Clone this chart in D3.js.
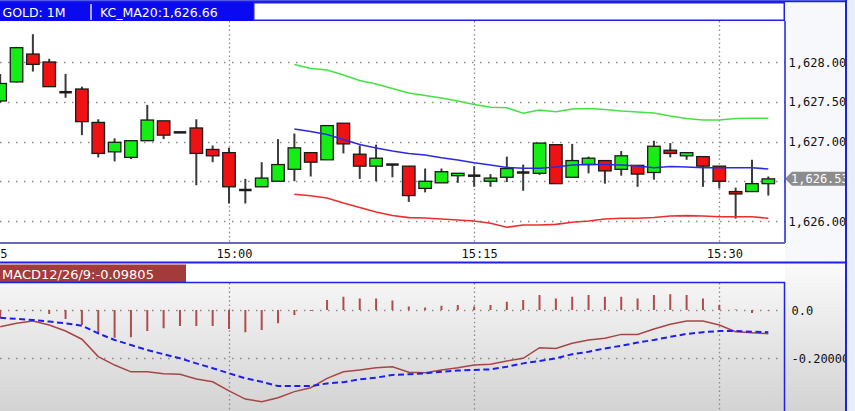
<!DOCTYPE html>
<html><head><meta charset="utf-8">
<script src="https://cdn.jsdelivr.net/npm/d3@7/dist/d3.min.js"></script>
<style>html,body{margin:0;padding:0;background:#e7eef8;overflow:hidden}</style>
</head><body>
<script>
// ---------- DATA ----------
const times = ["14:46","14:47","14:48","14:49","14:50","14:51","14:52","14:53","14:54","14:55","14:56","14:57","14:58","14:59",
"15:00","15:01","15:02","15:03","15:04","15:05","15:06","15:07","15:08","15:09","15:10","15:11","15:12","15:13","15:14","15:15",
"15:16","15:17","15:18","15:19","15:20","15:21","15:22","15:23","15:24","15:25","15:26","15:27","15:28","15:29","15:30","15:31","15:32","15:33"];
const open = [1627.51,1627.75,1628.10,1628.00,1627.62,1627.66,1627.24,1626.87,1626.80,1627.01,1627.26,1627.12,1627.17,1626.90,
1626.86,1626.39,1626.43,1626.50,1626.65,1626.86,1626.77,1627.23,1626.84,1626.69,1626.71,1626.69,1626.41,1626.48,1626.57,1626.57,
1626.50,1626.55,1626.61,1626.60,1626.96,1626.55,1626.71,1626.76,1626.65,1626.70,1626.61,1626.89,1626.82,1626.81,1626.69,1626.37,1626.37,1626.47];
const high = [1627.85,1628.19,1628.35,1628.04,1627.85,1627.69,1627.28,1627.04,1627.01,1627.46,1627.26,1627.12,1627.28,1626.95,
1626.92,1626.53,1626.74,1627.03,1627.10,1626.86,1627.20,1627.23,1626.95,1626.96,1626.71,1626.69,1626.66,1626.66,1626.60,1626.69,
1626.59,1626.81,1626.71,1626.98,1626.96,1626.97,1626.81,1626.76,1626.88,1626.70,1627.01,1626.98,1626.86,1626.81,1626.69,1626.42,1626.77,1626.56];
const low = [1627.49,1627.74,1627.88,1627.69,1627.55,1627.08,1626.80,1626.75,1626.78,1627.01,1627.03,1627.11,1626.45,1626.74,
1626.22,1626.22,1626.43,1626.50,1626.50,1626.56,1626.77,1626.85,1626.53,1626.50,1626.55,1626.24,1626.36,1626.48,1626.48,1626.43,
1626.43,1626.49,1626.38,1626.58,1626.47,1626.55,1626.60,1626.47,1626.57,1626.43,1626.52,1626.80,1626.77,1626.43,1626.41,1626.03,1626.37,1626.32];
const close = [1627.73,1628.18,1627.97,1627.69,1627.62,1627.25,1626.85,1626.99,1627.01,1627.27,1627.08,1627.11,1626.85,1626.82,
1626.43,1626.39,1626.54,1626.71,1626.92,1626.74,1627.20,1626.97,1626.69,1626.79,1626.71,1626.32,1626.50,1626.62,1626.60,1626.57,
1626.54,1626.66,1626.61,1626.98,1626.47,1626.76,1626.79,1626.63,1626.82,1626.59,1626.94,1626.85,1626.86,1626.69,1626.50,1626.34,1626.47,1626.53];

const kcTimes = ["15:04","15:05","15:06","15:07","15:08","15:09","15:10","15:11","15:12","15:13","15:14","15:15","15:16","15:17","15:18",
"15:19","15:20","15:21","15:22","15:23","15:24","15:25","15:26","15:27","15:28","15:29","15:30","15:31","15:32","15:33"];
const kcUpper = [1627.969,1627.918,1627.899,1627.836,1627.767,1627.723,1627.667,1627.610,1627.579,1627.547,1627.509,1627.465,1627.430,1627.425,1627.355,
1627.396,1627.375,1627.409,1627.415,1627.403,1627.384,1627.371,1627.358,1627.321,1627.289,1627.270,1627.270,1627.289,1627.292,1627.292];
const kcMiddle = [1627.157,1627.126,1627.088,1627.025,1626.962,1626.918,1626.881,1626.849,1626.830,1626.795,1626.767,1626.733,1626.704,1626.673,1626.663,
1626.663,1626.679,1626.704,1626.711,1626.711,1626.704,1626.692,1626.670,1626.686,1626.679,1626.670,1626.670,1626.670,1626.670,1626.655];
const kcLower = [1626.336,1626.318,1626.289,1626.226,1626.170,1626.113,1626.069,1626.042,1626.038,1626.025,1626.013,1626.000,1625.971,1625.921,1625.950,
1625.950,1625.958,1625.984,1626.000,1626.025,1626.034,1626.034,1626.044,1626.063,1626.067,1626.063,1626.054,1626.054,1626.054,1626.034];

const macdLine = [-0.069,-0.055,-0.046,-0.062,-0.087,-0.121,-0.193,-0.228,-0.256,-0.256,-0.264,-0.266,-0.286,-0.297,
-0.335,-0.369,-0.380,-0.363,-0.338,-0.322,-0.283,-0.256,-0.248,-0.239,-0.235,-0.258,-0.260,-0.248,-0.239,-0.228,
-0.225,-0.211,-0.200,-0.156,-0.159,-0.138,-0.124,-0.117,-0.101,-0.101,-0.079,-0.059,-0.046,-0.046,-0.062,-0.090,-0.094,-0.098];
const signalLine = [-0.032,-0.037,-0.041,-0.048,-0.055,-0.065,-0.097,-0.124,-0.145,-0.166,-0.183,-0.200,-0.221,-0.241,
-0.262,-0.283,-0.297,-0.315,-0.315,-0.315,-0.304,-0.299,-0.287,-0.280,-0.269,-0.266,-0.262,-0.256,-0.251,-0.248,
-0.246,-0.235,-0.221,-0.211,-0.200,-0.183,-0.173,-0.159,-0.148,-0.135,-0.124,-0.111,-0.099,-0.092,-0.087,-0.087,-0.090,-0.092];
const macdHist = [-0.032,-0.004,-0.002,-0.017,-0.037,-0.062,-0.096,-0.115,-0.113,-0.087,-0.076,-0.066,-0.066,-0.066,
-0.079,-0.092,-0.083,-0.055,-0.021,-0.004,0.041,0.055,0.048,0.048,0.039,0.014,0.010,0.018,0.021,0.014,
0.021,0.034,0.041,0.062,0.048,0.055,0.062,0.055,0.055,0.048,0.062,0.065,0.062,0.048,0.021,0.002,-0.012,-0.002];

const priceTicks = [1626.0, 1626.5, 1627.0, 1627.5, 1628.0];
const macdTicks = [0.0, -0.2];
const macdTickLabels = ["0.0", "-0.20000"];
const timeTicks = ["14:45","15:00","15:15","15:30"];
const lastPrice = 1626.53;
const headerSymbol = "GOLD: 1M";
const headerKC = "KC_MA20:1,626.66";
const headerMACD = "MACD12/26/9:-0.09805";

// ---------- LAYOUT ----------
const W = 855, H = 411;
const plotR = 785, axisR = 846;
const topT = 21, topB = 243;
const macdT = 283, macdB = 411;
const BLUE = "#1c22e0";
const MONO = "'DejaVu Sans Mono', monospace";
const SANS = "'DejaVu Sans', sans-serif";

const parse = d3.timeParse("%H:%M");
const x = d3.scaleTime().domain([parse("15:00"), parse("15:30")]).range([229, 719.3]);
const y = d3.scaleLinear().domain([1626, 1628]).range([221, 62]);
const ym = d3.scaleLinear().domain([-0.2, 0]).range([358.3, 310]);

const svg = d3.select("body").append("svg").attr("width", W).attr("height", H)
  .style("display","block");
const defs = svg.append("defs");
const grad = defs.append("linearGradient").attr("id","mg").attr("x1",0).attr("y1",0).attr("x2",0).attr("y2",1);
grad.append("stop").attr("offset","0%").attr("stop-color","#fbfbfb");
grad.append("stop").attr("offset","100%").attr("stop-color","#d3d3d3");
defs.append("clipPath").attr("id","cTop").append("rect").attr("x",0).attr("y",topT).attr("width",plotR).attr("height",topB-topT);
defs.append("clipPath").attr("id","cMacd").append("rect").attr("x",0).attr("y",macdT).attr("width",plotR-0.5).attr("height",macdB-macdT);
defs.append("clipPath").attr("id","cAll").append("rect").attr("x",0).attr("y",0).attr("width",axisR).attr("height",H);

// backgrounds
svg.append("rect").attr("width",W).attr("height",H).attr("fill","#e7eef8");
svg.append("rect").attr("x",0).attr("y",0).attr("width",axisR).attr("height",262).attr("fill","#f6f8fc");
svg.append("rect").attr("x",0).attr("y",topT).attr("width",plotR).attr("height",262-topT).attr("fill","#ffffff");
svg.append("rect").attr("x",0).attr("y",262).attr("width",axisR).attr("height",H-262).attr("fill","url(#mg)");
svg.append("rect").attr("x",0).attr("y",262).attr("width",plotR).attr("height",21).attr("fill","#ffffff");

// ---------- TOP PANEL ----------
const gTop = svg.append("g").attr("clip-path","url(#cTop)");
gTop.selectAll("line.hg").data(priceTicks).enter().append("line")
  .attr("x1",0).attr("x2",plotR).attr("y1",d=>Math.round(y(d))+0.5).attr("y2",d=>Math.round(y(d))+0.5)
  .attr("stroke","#8a8a8a").attr("stroke-width",1.3).attr("stroke-dasharray","1.5,6.5");
gTop.selectAll("line.vg").data(timeTicks).enter().append("line")
  .attr("x1",d=>Math.round(x(parse(d)))+0.5).attr("x2",d=>Math.round(x(parse(d)))+0.5)
  .attr("y1",topT).attr("y2",topB)
  .attr("stroke","#8a8a8a").attr("stroke-width",1.3).attr("stroke-dasharray","1.5,2.8");

const candles = times.map((t,i)=>({t:parse(t), o:open[i], h:high[i], l:low[i], c:close[i]}));
const bw = 12.5;
const cg = gTop.selectAll("g.c").data(candles).enter().append("g");
cg.append("line").attr("x1",d=>x(d.t)).attr("x2",d=>x(d.t)).attr("y1",d=>y(d.h)).attr("y2",d=>y(d.l))
  .attr("stroke","#3a3a3a").attr("stroke-width",2);
cg.each(function(d){
  const g = d3.select(this);
  const yt = y(Math.max(d.o,d.c)), yb = y(Math.min(d.o,d.c));
  if (yb - yt < 1.2) {
    g.append("line").attr("x1",x(d.t)-bw/2).attr("x2",x(d.t)+bw/2).attr("y1",(yt+yb)/2).attr("y2",(yt+yb)/2)
      .attr("stroke","#1a1a1a").attr("stroke-width",2.5);
  } else {
    g.append("rect").attr("x",x(d.t)-bw/2).attr("y",yt).attr("width",bw).attr("height",yb-yt)
      .attr("fill", d.c>=d.o ? "#14ee14" : "#f01212").attr("stroke","#1a1a1a").attr("stroke-width",1.3);
  }
});

const lineGen = d3.line().x(d=>x(d.t)).y(d=>y(d.v));
function kc(vals){ return kcTimes.map((t,i)=>({t:parse(t), v:vals[i]})); }
gTop.append("path").datum(kc(kcUpper)).attr("d",lineGen).attr("fill","none").attr("stroke","#44e244").attr("stroke-width",1.6);
gTop.append("path").datum(kc(kcMiddle)).attr("d",lineGen).attr("fill","none").attr("stroke","#2a2ae6").attr("stroke-width",1.6);
gTop.append("path").datum(kc(kcLower)).attr("d",lineGen).attr("fill","none").attr("stroke","#ec2e2e").attr("stroke-width",1.6);

// x axis labels
const gx = svg.append("g").attr("clip-path","url(#cAll)");
gx.selectAll("text").data(timeTicks).enter().append("text")
  .attr("x",d=>x(parse(d))+5.5).attr("y",257.5).attr("text-anchor","middle")
  .attr("font-family",MONO).attr("font-size",12).attr("fill","#111").text(d=>d);

// price axis labels (the one hidden behind the last-price tag is not drawn)
const ly = y(lastPrice);
const ga = svg.append("g").attr("clip-path","url(#cAll)");
ga.selectAll("text").data(priceTicks.filter(d=>Math.abs(y(d)-ly)>12)).enter().append("text")
  .attr("x",788.5).attr("y",d=>y(d)+4.5)
  .attr("font-family",MONO).attr("font-size",12).attr("fill","#111").text(d=>d3.format(",.2f")(d));
ga.append("path").attr("d",`M785,${ly} L792,${ly-7} L${axisR},${ly-7} L${axisR},${ly+7} L792,${ly+7} Z`).attr("fill","#8c8c8c");
ga.append("text").attr("x",791).attr("y",ly+4.5).attr("font-family",MONO).attr("font-size",12)
  .attr("fill","#ffffff").text(d3.format(",.2f")(lastPrice));

// ---------- MACD PANEL ----------
const gM = svg.append("g").attr("clip-path","url(#cMacd)");
gM.selectAll("line.hg").data(macdTicks).enter().append("line")
  .attr("x1",0).attr("x2",plotR).attr("y1",d=>Math.round(ym(d))+0.5).attr("y2",d=>Math.round(ym(d))+0.5)
  .attr("stroke","#8a8a8a").attr("stroke-width",1.3).attr("stroke-dasharray","1.5,6.5");
gM.selectAll("line.vg").data(timeTicks).enter().append("line")
  .attr("x1",d=>Math.round(x(parse(d)))+0.5).attr("x2",d=>Math.round(x(parse(d)))+0.5)
  .attr("y1",macdT).attr("y2",macdB)
  .attr("stroke","#8a8a8a").attr("stroke-width",1.3).attr("stroke-dasharray","1.5,2.8");
const md = times.map((t,i)=>({t:parse(t), m:macdLine[i], s:signalLine[i], h:macdHist[i]}));
gM.selectAll("line.hb").data(md).enter().append("line")
  .attr("x1",d=>x(d.t)).attr("x2",d=>x(d.t)).attr("y1",ym(0)).attr("y2",d=>ym(d.h))
  .attr("stroke","#b04c4c").attr("stroke-width",2);
gM.append("path").datum(md).attr("d",d3.line().x(d=>x(d.t)).y(d=>ym(d.m)))
  .attr("fill","none").attr("stroke","#a84646").attr("stroke-width",1.5);
gM.append("path").datum(md).attr("d",d3.line().x(d=>x(d.t)).y(d=>ym(d.s)))
  .attr("fill","none").attr("stroke","#1e1ef0").attr("stroke-width",2).attr("stroke-dasharray","6,3.5");

const gma = svg.append("g").attr("clip-path","url(#cAll)");
gma.selectAll("text").data(macdTicks).enter().append("text")
  .attr("x",791.5).attr("y",d=>ym(d)+4.5)
  .attr("font-family",MONO).attr("font-size",12).attr("fill","#111").text((d,i)=>macdTickLabels[i]);

// ---------- FRAMES & HEADERS ----------
svg.append("rect").attr("x",0).attr("y",2).attr("width",253).attr("height",19).attr("fill","#0a0af0");
svg.append("rect").attr("x",253.75).attr("y",2.75).attr("width",530.5).attr("height",17.5)
  .attr("fill","#ffffff").attr("stroke",BLUE).attr("stroke-width",1.5);
svg.append("text").attr("x",2.5).attr("y",16.5).attr("font-family",SANS).attr("font-size",12.5).attr("fill","#ffffff").text(headerSymbol);
svg.append("line").attr("x1",91).attr("x2",91).attr("y1",4).attr("y2",20).attr("stroke","#ffffff").attr("stroke-width",1.3);
svg.append("text").attr("x",100).attr("y",16.5).attr("font-family",SANS).attr("font-size",12.5).attr("fill","#ffffff").text(headerKC);

svg.append("line").attr("x1",0).attr("x2",axisR).attr("y1",1.2).attr("y2",1.2).attr("stroke",BLUE).attr("stroke-width",2);
svg.append("line").attr("x1",plotR).attr("x2",plotR).attr("y1",topT).attr("y2",topB).attr("stroke",BLUE).attr("stroke-width",1.5);
svg.append("line").attr("x1",0).attr("x2",plotR).attr("y1",topB).attr("y2",topB).attr("stroke","#6a6aae").attr("stroke-width",2);
svg.append("line").attr("x1",0).attr("x2",axisR).attr("y1",262.5).attr("y2",262.5).attr("stroke",BLUE).attr("stroke-width",2);
svg.append("rect").attr("x",0).attr("y",264.5).attr("width",186).attr("height",17.5).attr("fill","#a33b3b");
svg.append("text").attr("x",2).attr("y",278.5).attr("font-family",SANS).attr("font-size",13).attr("fill","#ffffff").text(headerMACD);
svg.append("line").attr("x1",0).attr("x2",plotR).attr("y1",282.5).attr("y2",282.5).attr("stroke",BLUE).attr("stroke-width",1.5);
svg.append("line").attr("x1",plotR-0.5).attr("x2",plotR-0.5).attr("y1",282).attr("y2",H).attr("stroke",BLUE).attr("stroke-width",1.5);
svg.append("line").attr("x1",axisR).attr("x2",axisR).attr("y1",0).attr("y2",H).attr("stroke",BLUE).attr("stroke-width",2);
</script>
</body></html>
